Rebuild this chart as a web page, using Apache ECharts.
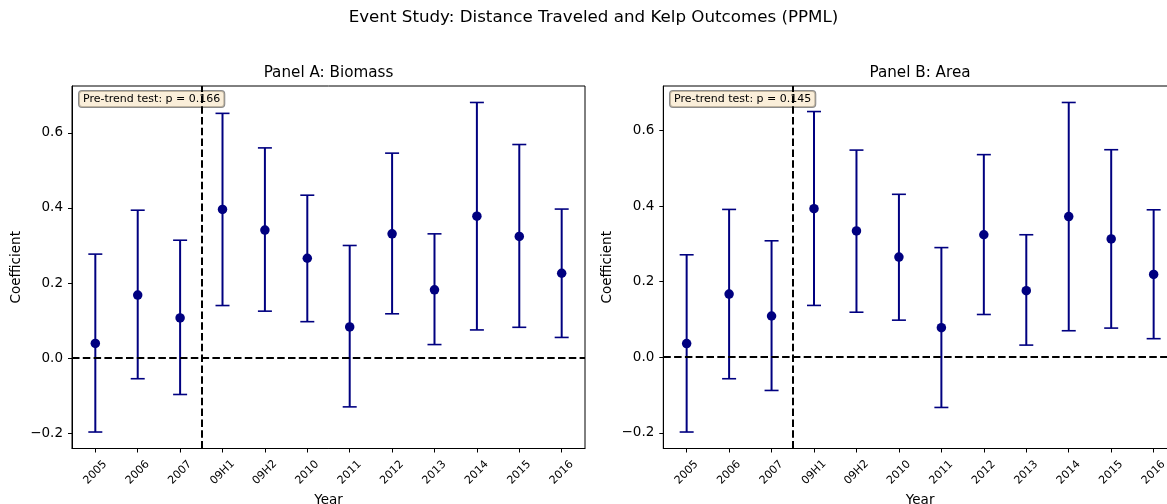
<!DOCTYPE html>
<html>
<head>
<meta charset="utf-8">
<script src="https://cdn.jsdelivr.net/npm/echarts@6/dist/echarts.min.js"></script>
<style>
  html, body { margin: 0; padding: 0; background: #fff; }
  #chart { width: 1167px; height: 504px; }
</style>
</head>
<body>
<div id="chart"></div>
<script>
const categories = ["2005", "2006", "2007", "09H1", "09H2", "2010", "2011", "2012", "2013", "2014", "2015", "2016"];

const biomassCoef = [0.039, 0.168, 0.107, 0.396, 0.341, 0.266, 0.083, 0.331, 0.182, 0.378, 0.324, 0.226];
const biomassLow = [-0.197, -0.055, -0.097, 0.140, 0.125, 0.097, -0.130, 0.118, 0.036, 0.075, 0.082, 0.055];
const biomassHigh = [0.277, 0.394, 0.314, 0.652, 0.560, 0.434, 0.300, 0.546, 0.331, 0.681, 0.569, 0.397];

const areaCoef = [0.036, 0.167, 0.109, 0.393, 0.334, 0.265, 0.078, 0.324, 0.176, 0.372, 0.313, 0.219];
const areaLow = [-0.198, -0.057, -0.088, 0.137, 0.119, 0.098, -0.133, 0.113, 0.032, 0.070, 0.077, 0.049];
const areaHigh = [0.271, 0.391, 0.308, 0.650, 0.548, 0.431, 0.290, 0.536, 0.324, 0.674, 0.549, 0.390];

const yTicks = [-0.2, 0.0, 0.2, 0.4, 0.6];
const treatLine = 2.5; // between 2007 and 09H1
const pretrendP = ["0.166", "0.145"];

const navy = "#000080";
const font = "DejaVu Sans";

// matplotlib-like autoscale: 5% margin
function range(lo, hi) {
  const a = Math.min(...lo), b = Math.max(...hi);
  const pad = 0.05 * (b - a);
  return [a - pad, b + pad];
}

function errorBar(params, api) {
  const x = api.value(0);
  const lo = api.coord([x, api.value(1)]);
  const hi = api.coord([x, api.value(2)]);
  const cap = 7;
  const bar = { stroke: navy, lineWidth: 2 };
  const capStyle = { stroke: navy, lineWidth: 1.6 };
  return {
    type: "group",
    children: [
      { type: "line", shape: { x1: lo[0], y1: lo[1], x2: hi[0], y2: hi[1] }, style: bar },
      { type: "line", shape: { x1: lo[0] - cap, y1: lo[1], x2: lo[0] + cap, y2: lo[1] }, style: capStyle },
      { type: "line", shape: { x1: hi[0] - cap, y1: hi[1], x2: hi[0] + cap, y2: hi[1] }, style: capStyle },
    ],
  };
}

const xIdx = categories.map((c, i) => i);

function makeAxes(i, lo, hi) {
  const [ymin, ymax] = range(lo, hi);
  const xAxis = {
    type: "value",
    gridIndex: i,
    min: -0.55,
    max: categories.length - 1 + 0.55,
    name: "Year",
    nameLocation: "middle",
    nameGap: 42,
    nameTextStyle: { fontFamily: font, fontSize: 13.5, color: "#000" },
    axisLine: { show: true, onZero: false, lineStyle: { color: "#000", width: 1 } },
    axisTick: { show: true, customValues: xIdx, length: 4, lineStyle: { color: "#000", width: 1 } },
    axisLabel: {
      customValues: xIdx,
      formatter: (v) => categories[Math.round(v)],
      rotate: 45,
      align: "center",
      verticalAlign: "middle",
      margin: 24,
      fontFamily: font,
      fontSize: 11,
      color: "#000",
    },
    splitLine: { show: false },
  };
  const yAxis = {
    type: "value",
    gridIndex: i,
    min: ymin,
    max: ymax,
    name: "Coefficient",
    nameLocation: "middle",
    nameGap: 49,
    nameTextStyle: { fontFamily: font, fontSize: 13.5, color: "#000" },
    axisLine: { show: true, onZero: false, lineStyle: { color: "#000", width: 1 } },
    axisTick: { show: true, customValues: yTicks, length: 4, lineStyle: { color: "#000", width: 1 } },
    axisLabel: {
      customValues: yTicks,
      formatter: (v) => (v < -1e-9 ? "\u2212" : "") + Math.abs(v).toFixed(1),
      margin: 9,
      fontFamily: font,
      fontSize: 13.5,
      color: "#000",
    },
    splitLine: { show: false },
  };
  return [xAxis, yAxis];
}

function makeSeries(i, coef, lo, hi) {
  return [
    {
      type: "custom",
      xAxisIndex: i,
      yAxisIndex: i,
      renderItem: errorBar,
      encode: { x: 0, y: [1, 2] },
      data: xIdx.map((k) => [k, lo[k], hi[k]]),
      z: 2,
      markLine: {
        silent: true,
        symbol: ["none", "none"],
        label: { show: false },
        lineStyle: { color: "#000", width: 2, type: [7.5, 3.3] },
        data: [{ yAxis: 0 }, { xAxis: treatLine }],
      },
    },
    {
      type: "scatter",
      xAxisIndex: i,
      yAxisIndex: i,
      data: xIdx.map((k) => [k, coef[k]]),
      symbol: "circle",
      symbolSize: 9.5,
      itemStyle: { color: navy, opacity: 1 },
      z: 4,
    },
  ];
}

const axesA = makeAxes(0, biomassLow, biomassHigh);
const axesB = makeAxes(1, areaLow, areaHigh);

const chart = echarts.init(document.getElementById("chart"), null, { renderer: "canvas" });

const gridBase = { top: 86, bottom: 55.5, show: true, borderColor: "#000", borderWidth: 1, backgroundColor: "transparent", containLabel: false, outerBoundsMode: "none" };

chart.setOption({
  animation: false,
  backgroundColor: "#fff",
  grid: [
    Object.assign({ left: 72, right: 582 }, gridBase),
    Object.assign({ left: 663.3, right: -10 }, gridBase),
  ],
  xAxis: [axesA[0], axesB[0]],
  yAxis: [axesA[1], axesB[1]],
  series: [
    ...makeSeries(0, biomassCoef, biomassLow, biomassHigh),
    ...makeSeries(1, areaCoef, areaLow, areaHigh),
  ],
  graphic: [
    {
      type: "text", x: 593.5, y: 18, z: 1,
      style: { text: "Event Study: Distance Traveled and Kelp Outcomes (PPML)", font: "16.7px 'DejaVu Sans'", fill: "#000", textAlign: "center", textVerticalAlign: "middle" },
    },
    {
      type: "text", x: 328.5, y: 73, z: 1,
      style: { text: "Panel A: Biomass", font: "15.2px 'DejaVu Sans'", fill: "#000", textAlign: "center", textVerticalAlign: "middle" },
    },
    {
      type: "text", x: 920, y: 73, z: 1,
      style: { text: "Panel B: Area", font: "15.2px 'DejaVu Sans'", fill: "#000", textAlign: "center", textVerticalAlign: "middle" },
    },
    {
      type: "text", x: 79, y: 91, z: 1,
      style: {
        text: "Pre-trend test: p = " + pretrendP[0], font: "11px 'DejaVu Sans'", fill: "#000",
        backgroundColor: "rgba(245,222,179,0.5)", borderColor: "rgba(0,0,0,0.45)", borderWidth: 1, borderRadius: 3, padding: [2, 4],
        lineHeight: 12,
      },
    },
    {
      type: "text", x: 670, y: 91, z: 1,
      style: {
        text: "Pre-trend test: p = " + pretrendP[1], font: "11px 'DejaVu Sans'", fill: "#000",
        backgroundColor: "rgba(245,222,179,0.5)", borderColor: "rgba(0,0,0,0.45)", borderWidth: 1, borderRadius: 3, padding: [2, 4],
        lineHeight: 12,
      },
    },
  ],
});
</script>
</body>
</html>
